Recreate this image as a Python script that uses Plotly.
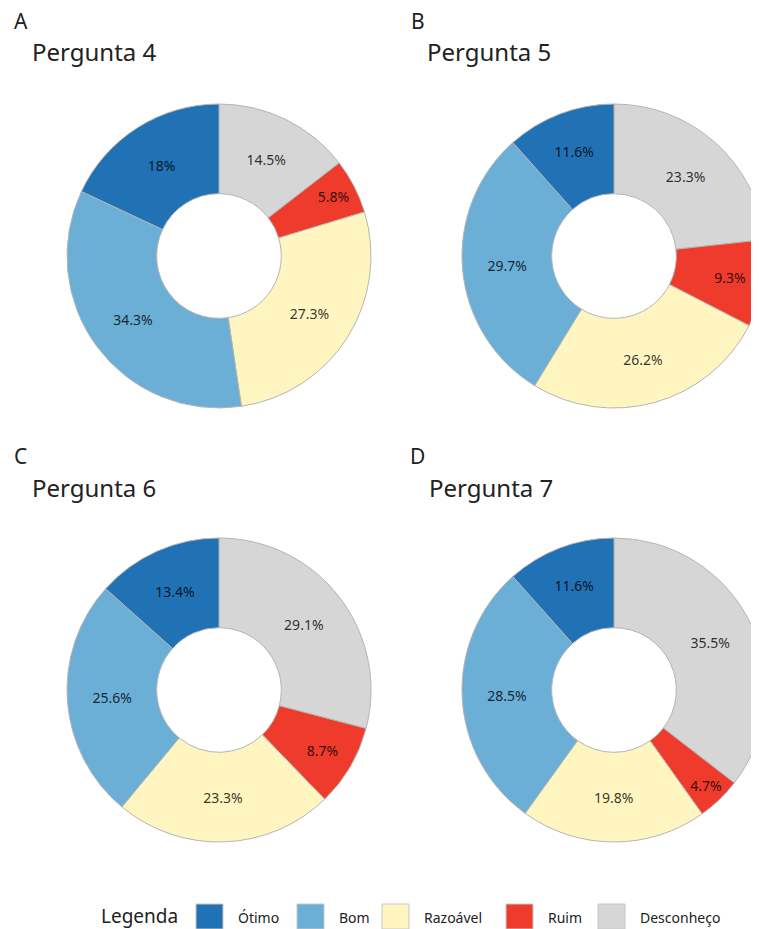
import plotly.graph_objects as go

# dados
categorias = ["Ótimo", "Bom", "Razoável", "Ruim", "Desconheço"]
cores = ["#2171b5", "#6baed6", "#fff5c0", "#ef3b2c", "#d6d6d6"]

paineis = ["A", "B", "C", "D"]
perguntas = ["Pergunta 4", "Pergunta 5", "Pergunta 6", "Pergunta 7"]
p4 = [18, 34.3, 27.3, 5.8, 14.5]
p5 = [11.6, 29.7, 26.2, 9.3, 23.3]
p6 = [13.4, 25.6, 23.3, 8.7, 29.1]
p7 = [11.6, 28.5, 19.8, 4.7, 35.5]
valores = [p4, p5, p6, p7]

W, H = 759, 929
OFF = 8  # margem do body da pagina
FONTE = "Noto Sans"

# layout (em pixels da tela): centro de cada rosca, raio
centros = [(219, 256), (614, 256), (219, 690), (614, 690)]
raio = 152
titulo_pos = [(12, 21, 30, 51), (409, 21, 425, 51), (12, 456, 30, 487), (408, 456, 427, 487)]


def px(x):
    return (x - OFF) / W


def py(y):
    return 1 - (y - OFF) / H


fig = go.Figure()

for i, vals in enumerate(valores):
    cx, cy = centros[i]
    # sentido horario a partir das 12h: Desconheço, Ruim, Razoável, Bom, Ótimo
    fig.add_trace(go.Pie(
        labels=categorias[::-1], values=vals[::-1],
        text=[f"{v:g}%" for v in vals[::-1]], textinfo="text",
        textposition="inside", insidetextorientation="horizontal",
        textfont=dict(family=FONTE, size=14, color="rgba(0,0,0,0.8)"),
        hole=0.41, sort=False, direction="clockwise", rotation=0,
        marker=dict(colors=cores[::-1], line=dict(color="#b5b5b5", width=1)),
        domain=dict(x=[px(cx - raio), min(1, px(cx + raio))], y=[py(cy + raio), py(cy - raio)]),
        showlegend=False, hoverinfo="label+text",
    ))
    lx, ly, tx, ty = titulo_pos[i]
    fig.add_annotation(x=px(lx), y=py(ly), xref="paper", yref="paper", text=paineis[i],
                       showarrow=False, xanchor="left", yanchor="middle",
                       font=dict(family=FONTE, size=21, color="#222"))
    fig.add_annotation(x=px(tx), y=py(ty), xref="paper", yref="paper", text=perguntas[i],
                       showarrow=False, xanchor="left", yanchor="middle",
                       font=dict(family=FONTE, size=24, color="#222"))

# legenda manual
fig.add_annotation(x=px(99), y=py(916), xref="paper", yref="paper", text="Legenda",
                   showarrow=False, xanchor="left", yanchor="middle",
                   font=dict(family=FONTE, size=19, color="#222"))
caixa_x = [196, 297, 382, 506, 598]
for cat, cor, x0 in zip(categorias, cores, caixa_x):
    fig.add_shape(type="rect", xref="paper", yref="paper",
                  x0=px(x0), x1=px(x0 + 27), y0=py(929), y1=py(904),
                  fillcolor=cor, line=dict(color="#c8c8c8", width=1))
    fig.add_annotation(x=px(x0 + 40), y=py(917), xref="paper", yref="paper", text=cat,
                       showarrow=False, xanchor="left", yanchor="middle",
                       font=dict(family=FONTE, size=14, color="#222"))

fig.update_layout(
    width=W, height=H,
    margin=dict(l=0, r=0, t=0, b=0),
    paper_bgcolor="white", plot_bgcolor="white",
    uniformtext=dict(minsize=14, mode="show"),
    showlegend=False,
)

fig.write_html("out.html")
